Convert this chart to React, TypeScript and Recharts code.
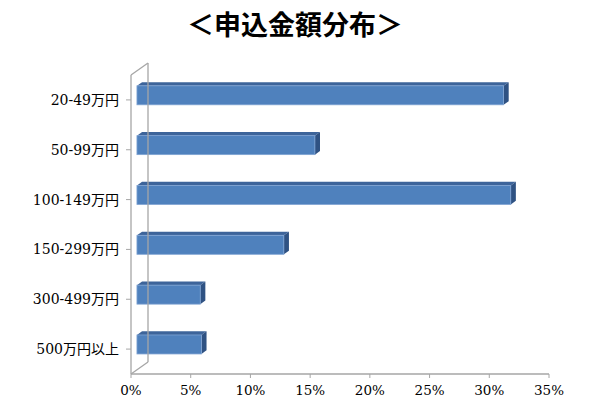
import React from "react"
import { BarChart, Bar, XAxis, YAxis, ReferenceLine } from "recharts"

const categories = ["20-49万円", "50-99万円", "100-149万円", "150-299万円", "300-499万円", "500万円以上"]
const shares = [30.7, 14.9, 31.3, 12.3, 5.3, 5.4]
const xTicks = [0, 5, 10, 15, 20, 25, 30, 35]

const data = categories.map((name, i) => ({ name, value: shares[i] }))

// 3D depth of the back wall
const DX = 17
const DY = -12
// bar front face sits at this fraction of the depth, back face at BACK
const FRONT = 0.35
const BACK = 0.65

const labelFont = "'DejaVu Serif', 'Noto Sans CJK JP', serif"

const Bar3D = (props: any) => {
  const { x, y, width, height } = props
  const fx = x + DX * FRONT
  const fy = y + DY * FRONT
  const ddx = DX * (BACK - FRONT)
  const ddy = DY * (BACK - FRONT)
  const r = fx + width
  return (
    <g>
      <polygon
        points={`${fx},${fy} ${fx + ddx},${fy + ddy} ${r + ddx},${fy + ddy} ${r},${fy}`}
        fill="#3d649a"
      />
      <polygon
        points={`${r},${fy} ${r + ddx},${fy + ddy} ${r + ddx},${fy + height + ddy} ${r},${fy + height}`}
        fill="#2f5283"
      />
      <rect x={fx} y={fy} width={width} height={height} fill="#4f81bd" stroke="#7fa3d3" strokeWidth={0.8} />
    </g>
  )
}

const BackWall = (props: any) => {
  const { x1, y1, x2, y2 } = props
  const top = Math.min(y1, y2)
  const bottom = Math.max(y1, y2)
  return (
    <g stroke="#a6a6a6" strokeWidth={1.3} fill="none">
      <line x1={x1 + DX} y1={top + DY} x2={x1 + DX} y2={bottom + DY} />
      <line x1={x1} y1={top} x2={x1 + DX} y2={top + DY} />
      <line x1={x1} y1={bottom} x2={x1 + DX} y2={bottom + DY} />
    </g>
  )
}

export default function App() {
  return (
    <div style={{ position: "absolute", left: 0, top: 0, width: 615, height: 414, background: "#fff" }}>
      <div
        style={{
          position: "absolute",
          left: 0,
          top: 4,
          width: 590,
          textAlign: "center",
          fontFamily: "'Noto Sans CJK JP', sans-serif",
          fontWeight: 700,
          fontSize: 27,
          color: "#000",
        }}
      >
        ＜申込金額分布＞
      </div>
      <BarChart
        width={615}
        height={414}
        data={data}
        layout="vertical"
        margin={{ top: 75, right: 66, bottom: 0, left: 0 }}
      >
        <XAxis
          type="number"
          domain={[0, 35]}
          ticks={xTicks}
          tickFormatter={(v) => `${v}%`}
          axisLine={{ stroke: "#a6a6a6", strokeWidth: 1.3 }}
          tickLine={{ stroke: "#a6a6a6" }}
          tickSize={4}
          tick={{ fill: "#000", fontSize: 13.5, fontFamily: labelFont }}
          tickMargin={7}
          height={40}
          interval={0}
        />
        <YAxis
          type="category"
          dataKey="name"
          width={131}
          axisLine={{ stroke: "#a6a6a6", strokeWidth: 1.3 }}
          tickLine={{ stroke: "#a6a6a6" }}
          tickSize={5}
          tick={{ fill: "#000", fontSize: 14, fontFamily: labelFont }}
          tickMargin={7}
          interval={0}
        />
        <ReferenceLine x={0} shape={<BackWall />} ifOverflow="visible" />
        <Bar dataKey="value" barSize={19} shape={<Bar3D />} isAnimationActive={false} />
      </BarChart>
    </div>
  )
}
